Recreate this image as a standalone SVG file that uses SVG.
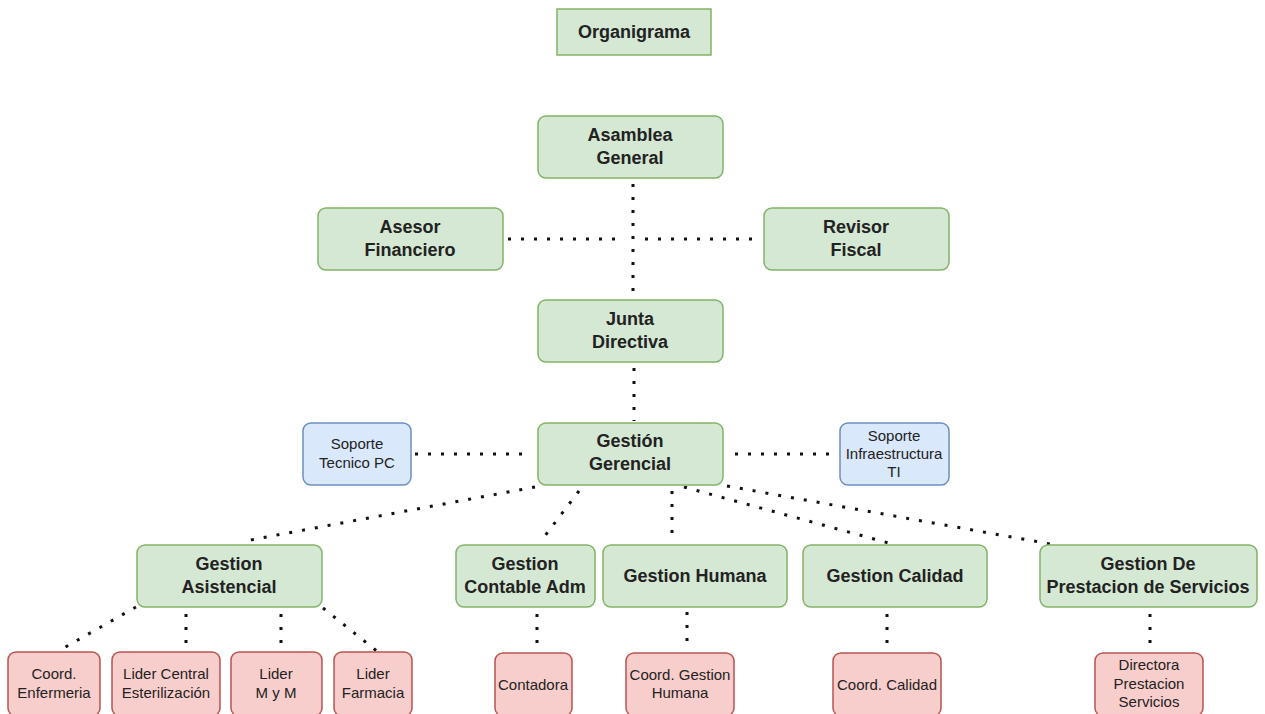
<svg xmlns="http://www.w3.org/2000/svg" width="1265" height="714" viewBox="0 0 1265 714">
  <style>
    .g { fill: #d5e8d4; stroke: #82b366; stroke-width: 1.5; }
    .b { fill: #dae8fc; stroke: #6c8ebf; stroke-width: 1.5; }
    .r { fill: #f8cecc; stroke: #b85450; stroke-width: 1.5; }
    .t { font-family: "Liberation Sans", Arial, sans-serif; font-weight: bold; font-size: 18px; fill: #222; text-anchor: middle; }
    .s { font-family: "Liberation Sans", Arial, sans-serif; font-size: 15px; fill: #222; text-anchor: middle; }
    .c line { stroke: #111; stroke-width: 3; stroke-dasharray: 3 10; fill: none; }
  </style>

  <!-- dotted reporting lines -->
  <g id="connectors" class="c">
    <line x1="633" y1="184" x2="633" y2="298"/>
    <line x1="508" y1="239" x2="622" y2="239"/>
    <line x1="645" y1="239" x2="760" y2="239"/>
    <line x1="634" y1="368" x2="634" y2="421"/>
    <line x1="415" y1="454" x2="528" y2="454"/>
    <line x1="735" y1="454" x2="838" y2="454"/>
    <line x1="535" y1="487" x2="245" y2="541"/>
    <line x1="579" y1="491" x2="541" y2="541"/>
    <line x1="672" y1="491" x2="672" y2="543"/>
    <line x1="684" y1="487" x2="896" y2="545"/>
    <line x1="727" y1="486" x2="1056" y2="545"/>
    <line x1="136" y1="607" x2="62" y2="649"/>
    <line x1="186" y1="614" x2="186" y2="652"/>
    <line x1="281" y1="614" x2="281" y2="652"/>
    <line x1="323" y1="608" x2="378" y2="652"/>
    <line x1="537" y1="614" x2="537" y2="652"/>
    <line x1="687" y1="612" x2="687" y2="650"/>
    <line x1="887" y1="614" x2="887" y2="652"/>
    <line x1="1150" y1="614" x2="1150" y2="652"/>
  </g>

  <g id="titulo">
    <rect class="g" x="557" y="9" width="154" height="46"/>
    <text class="t" x="634" y="38">Organigrama</text>
  </g>

  <g id="asamblea">
    <rect class="g" x="538" y="116" width="185" height="62" rx="8"/>
    <text class="t" x="630" y="141">Asamblea</text>
    <text class="t" x="630" y="164">General</text>
  </g>

  <g id="asesor">
    <rect class="g" x="318" y="208" width="185" height="62" rx="8"/>
    <text class="t" x="410" y="233">Asesor</text>
    <text class="t" x="410" y="256">Financiero</text>
  </g>

  <g id="revisor">
    <rect class="g" x="764" y="208" width="185" height="62" rx="8"/>
    <text class="t" x="856" y="233">Revisor</text>
    <text class="t" x="856" y="256">Fiscal</text>
  </g>

  <g id="junta">
    <rect class="g" x="538" y="300" width="185" height="62" rx="8"/>
    <text class="t" x="630" y="325">Junta</text>
    <text class="t" x="630" y="348">Directiva</text>
  </g>

  <g id="gerencia">
    <rect class="g" x="538" y="423" width="185" height="62" rx="8"/>
    <text class="t" x="630" y="447">Gestión</text>
    <text class="t" x="630" y="470">Gerencial</text>
  </g>

  <g id="soporte-pc">
    <rect class="b" x="303" y="423" width="108" height="62" rx="8"/>
    <text class="s" x="357" y="449">Soporte</text>
    <text class="s" x="357" y="468">Tecnico PC</text>
  </g>

  <g id="soporte-ti">
    <rect class="b" x="840" y="423" width="109" height="62" rx="8"/>
    <text class="s" x="894" y="441">Soporte</text>
    <text class="s" x="894" y="459">Infraestructura</text>
    <text class="s" x="894" y="477">TI</text>
  </g>

  <g id="asistencial">
    <rect class="g" x="137" y="545" width="185" height="62" rx="8"/>
    <text class="t" x="229" y="570">Gestion</text>
    <text class="t" x="229" y="593">Asistencial</text>
  </g>

  <g id="contable">
    <rect class="g" x="456" y="545" width="139" height="62" rx="8"/>
    <text class="t" x="525" y="570">Gestion</text>
    <text class="t" x="525" y="593">Contable Adm</text>
  </g>

  <g id="humana">
    <rect class="g" x="603" y="545" width="184" height="62" rx="8"/>
    <text class="t" x="695" y="582">Gestion Humana</text>
  </g>

  <g id="calidad">
    <rect class="g" x="803" y="545" width="184" height="62" rx="8"/>
    <text class="t" x="895" y="582">Gestion Calidad</text>
  </g>

  <g id="prestacion">
    <rect class="g" x="1040" y="545" width="217" height="62" rx="8"/>
    <text class="t" x="1148" y="570">Gestion De</text>
    <text class="t" x="1148" y="593">Prestacion de Servicios</text>
  </g>

  <g id="enfermeria">
    <rect class="r" x="8" y="652" width="92" height="64" rx="8"/>
    <text class="s" x="54" y="679">Coord.</text>
    <text class="s" x="54" y="698">Enfermeria</text>
  </g>

  <g id="esterilizacion">
    <rect class="r" x="112" y="652" width="108" height="64" rx="8"/>
    <text class="s" x="166" y="679">Lider Central</text>
    <text class="s" x="166" y="698">Esterilización</text>
  </g>

  <g id="mym">
    <rect class="r" x="231" y="652" width="91" height="64" rx="8"/>
    <text class="s" x="276" y="679">Lider</text>
    <text class="s" x="276" y="698">M y M</text>
  </g>

  <g id="farmacia">
    <rect class="r" x="334" y="652" width="78" height="64" rx="8"/>
    <text class="s" x="373" y="679">Lider</text>
    <text class="s" x="373" y="698">Farmacia</text>
  </g>

  <g id="contadora">
    <rect class="r" x="495" y="653" width="77" height="63" rx="8"/>
    <text class="s" x="533" y="690">Contadora</text>
  </g>

  <g id="coord-humana">
    <rect class="r" x="626" y="653" width="108" height="63" rx="8"/>
    <text class="s" x="680" y="680">Coord. Gestion</text>
    <text class="s" x="680" y="698">Humana</text>
  </g>

  <g id="coord-calidad">
    <rect class="r" x="833" y="653" width="108" height="63" rx="8"/>
    <text class="s" x="887" y="690">Coord. Calidad</text>
  </g>

  <g id="directora">
    <rect class="r" x="1095" y="653" width="108" height="63" rx="8"/>
    <text class="s" x="1149" y="670">Directora</text>
    <text class="s" x="1149" y="689">Prestacion</text>
    <text class="s" x="1149" y="707">Servicios</text>
  </g>
</svg>
